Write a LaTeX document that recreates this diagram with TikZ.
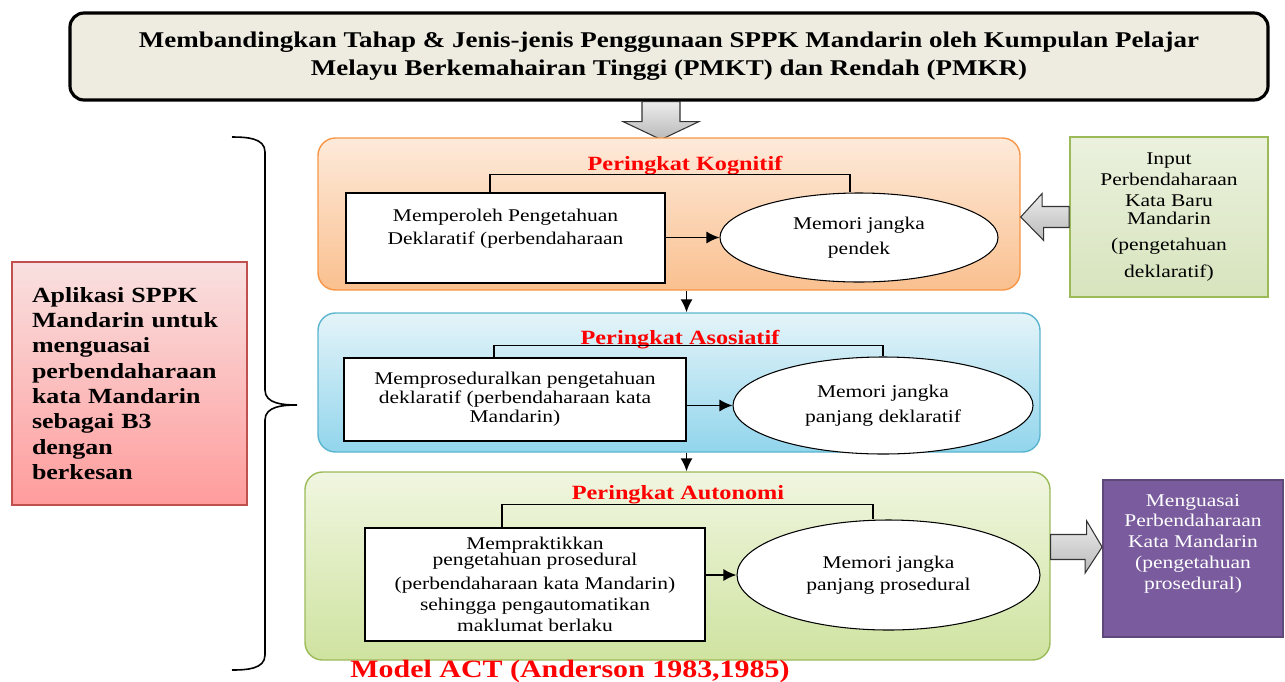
\documentclass[tikz,border=0pt]{standalone}
\usepackage{fontspec}
\setmainfont{Liberation Serif}[FakeStretch=1.2]
\usetikzlibrary{positioning}
\usetikzlibrary{arrows.meta}
\usetikzlibrary{calc}
\usetikzlibrary{shapes.geometric}

\definecolor{titlebg}{HTML}{EEECE1}
\definecolor{kogtop}{HTML}{FDEADA}
\definecolor{kogbot}{HTML}{FAC08F}
\definecolor{kogline}{HTML}{F79646}
\definecolor{asotop}{HTML}{E4F4F9}
\definecolor{asobot}{HTML}{92D5EC}
\definecolor{asoline}{HTML}{5BB5CF}
\definecolor{auttop}{HTML}{F0F6E0}
\definecolor{autbot}{HTML}{CFE3A0}
\definecolor{autline}{HTML}{9BBB59}
\definecolor{intop}{HTML}{EBF1DE}
\definecolor{inbot}{HTML}{D7E4BD}
\definecolor{outfill}{HTML}{7A5C9E}
\definecolor{outline}{HTML}{5F497A}
\definecolor{apptop}{HTML}{F9E0E0}
\definecolor{appbot}{HTML}{FF9C9C}
\definecolor{appline}{HTML}{C0504D}

\tikzset{>={Latex[length=2.6mm,width=2.4mm]}}
\tikzset{titlebox/.style={draw, line width=1.8pt, rounded corners=8pt, fill=titlebg, align=center, font=\fontsize{12.8}{15.9}\selectfont\bfseries}}
\tikzset{panel/.style={rounded corners=10pt, inner sep=0pt, draw, line width=0.8pt}}
\tikzset{lvl/.style={text=red, font=\fontsize{11.5}{13}\selectfont\bfseries}}
\tikzset{stagebox/.style={draw, fill=white, line width=0.6pt, align=center, inner sep=2pt, font=\fontsize{10.2}{13}\selectfont}}
\tikzset{memo/.style={draw, ellipse, fill=white, line width=0.6pt, align=center, inner sep=0pt, font=\fontsize{10.2}{14}\selectfont}}
\tikzset{fb/.style={line width=0.6pt}}
\tikzset{ar/.style={->, line width=0.8pt}}
\tikzset{blockarr/.style={draw=black!80, line width=0.6pt, top color=gray!15, bottom color=gray!55}}
\tikzset{sidebox/.style={draw, line width=1pt, align=center, inner sep=0pt, font=\fontsize{10.2}{12}\selectfont}}

\begin{document}
\begin{tikzpicture}
\useasboundingbox (0,0) rectangle (25.7,-13.62);

%%% The heading

\node[titlebox, minimum width=23.96cm, minimum height=1.74cm] (head) at (13.38,-1.13)
 {Membandingkan Tahap \& Jenis-jenis Penggunaan SPPK Mandarin oleh Kumpulan Pelajar\\
  Melayu Berkemahairan Tinggi (PMKT) dan Rendah (PMKR)};

\draw[blockarr] ([xshift=-5.4mm]head.south) -- ++(0,-0.4) -- ++(-0.38,0)
 -- ++(0.76,-0.36) -- ++(0.76,0.36) -- ++(-0.38,0) -- ++(0,0.4) -- cycle;

%%% The cognitive stage

\node[panel, top color=kogtop, bottom color=kogbot, draw=kogline,
 minimum width=14.04cm, minimum height=3.04cm] (kog) at (13.38,-4.28) {};
\node[lvl] (kogt) at (13.7,-3.32) {Peringkat Kognitif};
\node[stagebox, minimum width=6.38cm, minimum height=1.8cm] (dek) at (10.11,-4.76)
 {Memperoleh Pengetahuan\\Deklaratif (perbendaharaan\\\mbox{}};
\node[memo, minimum width=5.56cm, minimum height=1.78cm] (pendek) at (17.18,-4.75)
 {Memori jangka\\pendek};

\draw[fb] ([xshift=-3.1mm]dek.north) |- ([xshift=-1.8mm,yshift=3.6mm]pendek.north)
 -- ([xshift=-1.8mm]pendek.north);
\draw[ar] (dek.east |- pendek.west) -- (pendek.west);

%%% The associative stage

\node[panel, top color=asotop, bottom color=asobot, draw=asoline,
 minimum width=14.44cm, minimum height=2.78cm] (aso) at (13.58,-7.65) {};
\node[lvl] (asot) at (13.6,-6.8) {Peringkat Asosiatif};
\node[stagebox, minimum width=6.84cm, minimum height=1.66cm,
 font=\fontsize{10.2}{10.8}\selectfont] (prosed) at (10.3,-7.99)
 {Memproseduralkan pengetahuan\\deklaratif (perbendaharaan kata\\Mandarin)};
\node[memo, minimum width=6.0cm, minimum height=1.94cm] (panjdek) at (17.66,-8.11)
 {Memori jangka\\panjang deklaratif};

\draw[fb] ([xshift=-4.2mm]prosed.north) |- ([yshift=2.2mm]panjdek.north) -- (panjdek.north);
\draw[ar] (prosed.east |- panjdek.west) -- (panjdek.west);

%%% The autonomous stage

\node[panel, top color=auttop, bottom color=autbot, draw=autline,
 minimum width=14.9cm, minimum height=3.76cm] (aut) at (13.55,-11.32) {};
\node[lvl] (autt) at (13.56,-9.9) {Peringkat Autonomi};
\node[stagebox, minimum width=6.8cm, minimum height=2.26cm,
 font=\fontsize{10.2}{12}\selectfont] (amal) at (10.7,-11.69)
 {Mempraktikkan\\[-3pt]pengetahuan prosedural\\[2pt](perbendaharaan kata Mandarin)\\
  sehingga pengautomatikan\\maklumat berlaku};
\node[memo, minimum width=6.06cm, minimum height=2.2cm, font=\fontsize{10.2}{12.5}\selectfont]
 (panjpro) at (17.77,-11.5) {Memori jangka\\panjang prosedural};

\draw[fb] ([xshift=-6.6mm]amal.north) |- ([xshift=-3.1mm,yshift=3mm]panjpro.north)
 -- ([xshift=-3.1mm]panjpro.north);
\draw[ar, line width=1pt] (amal.east |- panjpro.west) -- (panjpro.west);

%%% Between the stages

\draw[ar] (kog.south -| prosed.east) -- (aso.north -| prosed.east);
\draw[ar] (aso.south -| prosed.east) -- (aut.north -| prosed.east);

%%% Input and outcome

\node[sidebox, top color=intop, bottom color=inbot, draw=autline,
 minimum width=3.96cm, minimum height=3.2cm] (input) at (23.38,-4.34)
 {Input\\Perbendaharaan\\Kata Baru\\[-2pt]Mandarin\\[3pt](pengetahuan\\[3pt]deklaratif)};

\draw[blockarr] ([yshift=2.1mm]input.west) -- ++(-0.54,0) -- ++(0,0.26)
 -- (kog.east |- input.west) -- ++(0.46,-0.47) -- ++(0,0.26)
 -- ([yshift=-2.1mm]input.west) -- cycle;

\node[sidebox, fill=outfill, draw=outline, text=white,
 minimum width=3.6cm, minimum height=3.14cm, font=\fontsize{10.2}{11.8}\selectfont]
 (kuasai) at (23.86,-11.17)
 {Menguasai\\Perbendaharaan\\Kata Mandarin\\(pengetahuan\\prosedural)\\[0.26cm]\mbox{}};

\draw[blockarr] ([yshift=6.3mm]aut.east) -- ++(0.72,0) -- ++(0,0.27)
 -- ($(kuasai.west |- aut.east)+(0,0.38)$) -- ++(-0.34,-0.52) -- ++(0,0.27)
 -- ([yshift=1.3mm]aut.east) -- cycle;

%%% The application and the brace

\node[draw=appline, line width=0.8pt, top color=apptop, bottom color=appbot,
 align=left, text width=3.9cm, inner xsep=0.4cm, minimum height=4.86cm,
 font=\fontsize{12.3}{14.4}\selectfont\bfseries] (aplikasi) at (2.59,-7.67)
 {Aplikasi SPPK\\Mandarin untuk\\menguasai\\perbendaharaan\\kata Mandarin\\sebagai B3\\dengan\\berkesan};

\coordinate (btop) at (4.64,-2.74);
\coordinate (btip) at (5.94,-8.1);
\coordinate (bbot) at (4.64,-13.4);
\draw[line width=0.9pt] (btop) to[out=0, in=90] ++(0.66,-0.3) -- ++(0,-4.76)
 to[out=-90, in=180] (btip)
 to[out=180, in=90] ++(-0.64,-0.3) -- ++(0,-4.7)
 to[out=-90, in=0] (bbot);

\node[text=red, font=\fontsize{14.2}{16}\selectfont\bfseries, anchor=base] (model)
 at (11.4,-13.54) {Model ACT (Anderson 1983,1985)};

\end{tikzpicture}
\end{document}
